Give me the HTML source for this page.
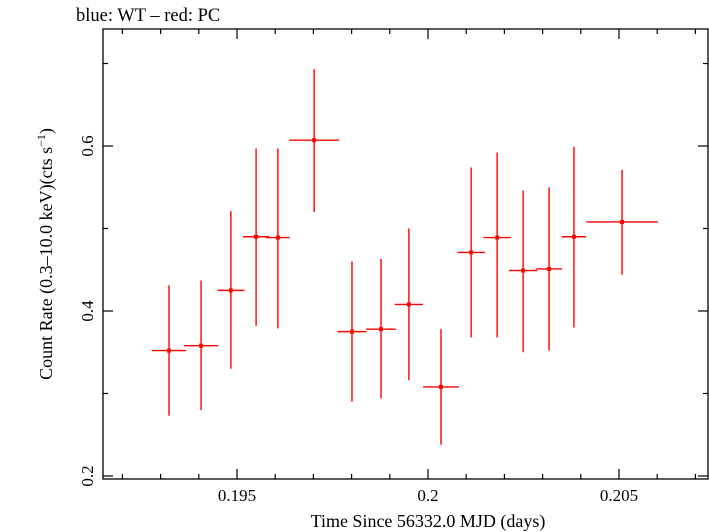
<!DOCTYPE html>
<html><head><meta charset="utf-8"><style>
html,body{margin:0;padding:0;background:#fff;}
svg{display:block;font-family:"Liberation Serif",serif;}
</style></head><body>
<svg id="chart" width="709" height="532" viewBox="0 0 709 532">
<text x="76" y="21" font-size="18.5">blue: WT – red: PC</text>
<rect x="103" y="29" width="605" height="450" fill="none" stroke="#000" stroke-width="1.3"/>
<g id="ticks"></g>
<g id="series"></g>
<text x="428" y="527" font-size="18" text-anchor="middle">Time Since 56332.0 MJD (days)</text>
<text transform="translate(52,254) rotate(-90)" font-size="18" text-anchor="middle">Count Rate (0.3–10.0 keV)(cts s<tspan font-size="12" dy="-7">−1</tspan><tspan dy="7">)</tspan></text>
</svg>
<script>
const times=[0.19322,0.19406,0.19484,0.19550,0.19607,0.19702,0.19801,0.19877,0.19950,0.20034,0.20113,0.20181,0.20249,0.20317,0.20382,0.20508];
const timeErr=[0.00045,0.00045,0.00035,0.00034,0.00031,0.00065,0.00038,0.00039,0.00037,0.00047,0.00036,0.00036,0.00037,0.00034,0.00032,0.00094];
const rates=[0.352,0.358,0.425,0.490,0.489,0.607,0.375,0.378,0.408,0.308,0.471,0.489,0.449,0.451,0.490,0.508];
const rateHi=[0.431,0.437,0.521,0.597,0.597,0.693,0.460,0.463,0.500,0.378,0.574,0.592,0.546,0.550,0.599,0.571];
const rateLo=[0.273,0.280,0.330,0.382,0.379,0.520,0.290,0.294,0.316,0.238,0.368,0.368,0.350,0.352,0.380,0.444];
const xTicks=[0.195,0.2,0.205];
const xTickLabels=["0.195","0.2","0.205"];
const yTicks=[0.2,0.4,0.6];
const yTickLabels=["0.2","0.4","0.6"];
const X0=103,X1=708,Y0=29,Y1=479;
const xmin=0.195-134/38200,xmax=xmin+605/38200;
const ymin=0.2-(479-476)/825,ymax=0.2+(476-29)/825;
const sx=v=>X0+(v-xmin)/(xmax-xmin)*(X1-X0);
const sy=v=>Y1-(v-ymin)/(ymax-ymin)*(Y1-Y0);
const NS="http://www.w3.org/2000/svg";
function mk(tag,attrs,parent){const e=document.createElementNS(NS,tag);for(const k in attrs)e.setAttribute(k,attrs[k]);parent.appendChild(e);return e;}
const tg=document.getElementById('ticks');
for(let i=192;i<=207;i++){const v=i/1000;const x=sx(v);if(x<X0||x>X1)continue;const major=(i%5===0);const L=major?10:5;
 const a=mk('line',{x1:x,x2:x,y1:Y1,y2:Y1-L,stroke:'#000','stroke-width':1.2},tg);
 
 
 const b=mk('line',{x1:x,x2:x,y1:Y0,y2:Y0+L,stroke:'#000','stroke-width':1.2},tg);
 
 }
for(let i=2;i<=7;i++){const v=i/10;const y=sy(v);const major=(i%2===0);const L=major?10:5;
 const a=mk('line',{x1:X0,x2:X0+L,y1:y,y2:y,stroke:'#000','stroke-width':1.2},tg);
 
 
 const b=mk('line',{x1:X1,x2:X1-L,y1:y,y2:y,stroke:'#000','stroke-width':1.2},tg);
 
 }
xTicks.forEach((v,i)=>{const t=mk('text',{x:sx(v),y:501,'font-size':17,'text-anchor':'middle'},tg);t.textContent=xTickLabels[i];
 
 });
yTicks.forEach((v,i)=>{const t=mk('text',{transform:`translate(93,${sy(v)}) rotate(-90)`,'font-size':17,'text-anchor':'middle'},tg);t.textContent=yTickLabels[i];
 
 });
const sg=document.getElementById('series');
times.forEach((t,i)=>{const g=mk('g',{},sg);
 
 
 mk('line',{x1:sx(t-timeErr[i]),x2:sx(t+timeErr[i]),y1:sy(rates[i]),y2:sy(rates[i]),stroke:'#f00','stroke-width':1.4},g);
 mk('line',{x1:sx(t),x2:sx(t),y1:sy(rateHi[i]),y2:sy(rateLo[i]),stroke:'#f00','stroke-width':1.4},g);
 mk('rect',{x:sx(t)-2,y:sy(rates[i])-2,width:4,height:4,fill:'#f00'},g);});
</script>
</body></html>
